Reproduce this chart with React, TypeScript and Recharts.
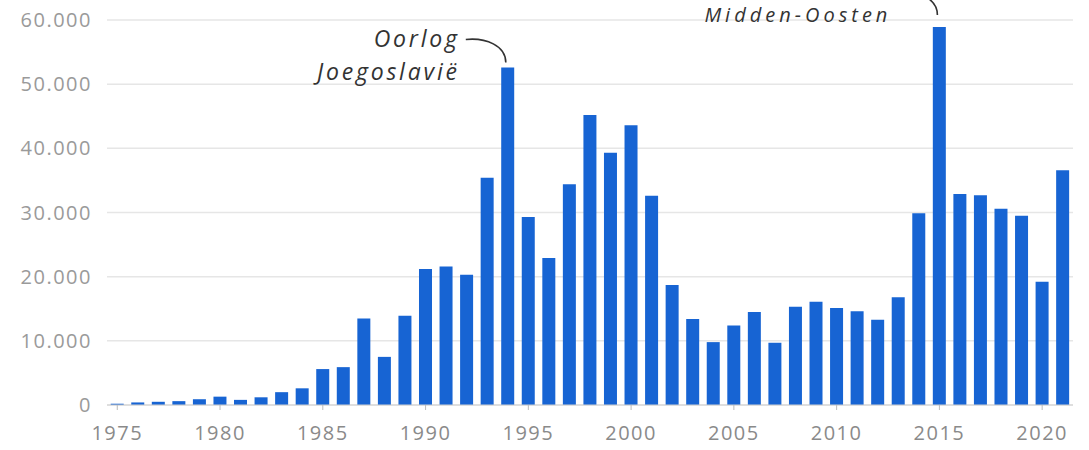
import React from "react";
import { BarChart, Bar, XAxis, YAxis, CartesianGrid, ReferenceDot } from "recharts";

const years: number[] = [
  1975, 1976, 1977, 1978, 1979, 1980, 1981, 1982, 1983, 1984,
  1985, 1986, 1987, 1988, 1989, 1990, 1991, 1992, 1993, 1994,
  1995, 1996, 1997, 1998, 1999, 2000, 2001, 2002, 2003, 2004,
  2005, 2006, 2007, 2008, 2009, 2010, 2011, 2012, 2013, 2014,
  2015, 2016, 2017, 2018, 2019, 2020, 2021,
];

const asylumRequests: number[] = [
  200, 400, 500, 600, 900, 1300, 800, 1200, 2000, 2600,
  5600, 5900, 13500, 7500, 13900, 21200, 21600, 20300, 35400, 52600,
  29300, 22900, 34400, 45200, 39300, 43600, 32600, 18700, 13400, 9800,
  12400, 14500, 9700, 15300, 16100, 15100, 14600, 13300, 16800, 29900,
  58900, 32900, 32700, 30600, 29500, 19200, 36600,
];

const xTicks: number[] = [1975, 1980, 1985, 1990, 1995, 2000, 2005, 2010, 2015, 2020];
const yTicks: number[] = [0, 10000, 20000, 30000, 40000, 50000, 60000];

const annotationYears: number[] = [1994, 2015];
const annotationLines: string[][] = [["Oorlog", "Joegoslavië"], ["Midden-Oosten"]];

const data = years.map((year, i) => ({ year, value: asylumRequests[i] }));

const FONT = "'Open Sans', 'Noto Sans', sans-serif";
const BLUE = "#1764d3";

const fmt = (v: number) => v.toLocaleString("nl-NL").replace(/\u00a0/g, ".");

const makeShape = (
  lines: string[],
  lift: number,
  firstBaselineOffset: number,
  fontSize: number,
  spacing: number
) => (props: any) => {
  const { cx, cy } = props;
  if (cx == null || cy == null) return <g />;
  const by = cy - lift;
  const textX = cx - 48;
  return (
    <g>
      <path
        d={`M ${cx - 42} ${by - 28} C ${cx - 22} ${by - 30}, ${cx - 2} ${by - 22}, ${cx - 2} ${by - 5}`}
        fill="none"
        stroke="#333"
        strokeWidth={1.6}
      />
      {lines.map((t, i) => (
        <text
          key={i}
          x={textX}
          y={cy + firstBaselineOffset + i * 33}
          textAnchor="end"
          fontFamily={FONT}
          fontStyle="italic"
          fontSize={fontSize}
          letterSpacing={spacing}
          fill="#333"
        >
          {t}
        </text>
      ))}
    </g>
  );
};

export default function App() {
  return (
    <div style={{ position: "fixed", left: 0, top: 0, width: 1089, height: 450, background: "#fff" }}>
      <BarChart
        width={1089}
        height={450}
        data={data}
        margin={{ top: 20, right: 16, bottom: 15, left: 0 }}
        barCategoryGap="18%"
      >
        <CartesianGrid vertical={false} stroke="#e6e6e6" strokeWidth={1.5} />
        <XAxis
          dataKey="year"
          type="category"
          height={30}
          ticks={xTicks}
          interval={0}
          tickSize={5}
          tickMargin={16}
          axisLine={{ stroke: "#d0d0d0" }}
          tickLine={{ stroke: "#bbbbbb" }}
          tick={{ fill: "#8a8a8a", fontSize: 20, fontFamily: FONT, letterSpacing: 1.5 }}
        />
        <YAxis
          width={107}
          domain={[0, 60000]}
          ticks={yTicks}
          interval={0}
          axisLine={false}
          tickLine={false}
          tickSize={0}
          tickMargin={15}
          tickFormatter={fmt}
          tick={{ fill: "#9a9a9a", fontSize: 20, fontFamily: FONT, letterSpacing: 1.5 }}
        />
        <Bar dataKey="value" fill={BLUE} isAnimationActive={false} />
        {annotationYears.map((yr, i) => (
          <ReferenceDot
            key={yr}
            x={yr}
            y={asylumRequests[years.indexOf(yr)]}
            ifOverflow="visible"
            shape={
              i === 1
                ? makeShape(annotationLines[i], 7, -5, 20, 4)
                : makeShape(annotationLines[i], 0, -20, 23, 2.8)
            }
          />
        ))}
      </BarChart>
    </div>
  );
}
